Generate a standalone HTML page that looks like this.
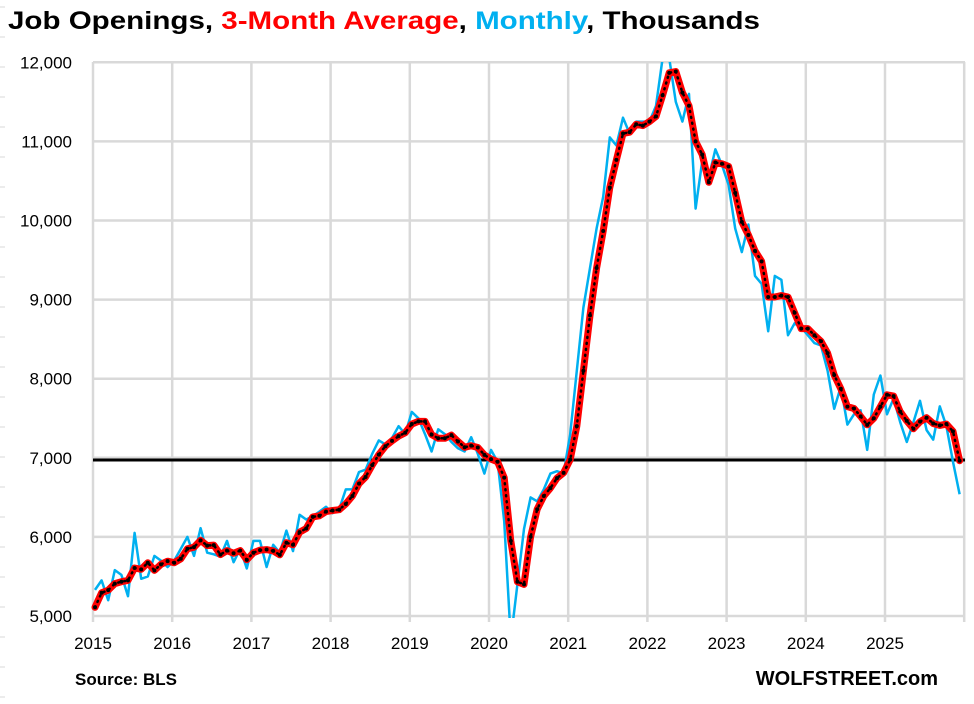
<!DOCTYPE html>
<html><head><meta charset="utf-8">
<style>
html,body{margin:0;padding:0;background:#fff;}
svg{display:block;font-family:"Liberation Sans",sans-serif;}
</style></head>
<body>
<svg id="s" width="974" height="704" viewBox="0 0 974 704" xmlns="http://www.w3.org/2000/svg">
<text x="8" y="29" font-size="25" font-weight="bold" textLength="752" lengthAdjust="spacingAndGlyphs"><tspan fill="#000">Job Openings, </tspan><tspan fill="#ff0000">3-Month Average</tspan><tspan fill="#000">, </tspan><tspan fill="#00b0f0">Monthly</tspan><tspan fill="#000">, Thousands</tspan></text>
<g id="grid" stroke="#d9d9d9" stroke-width="2.5" fill="none"></g>
<g id="lab" font-size="17" fill="#000"></g>
<line x1="93" y1="460" x2="965" y2="460" stroke="#000" stroke-width="3"/>
<g id="series"></g>
<text x="75" y="685" font-size="17" font-weight="bold">Source: BLS</text>
<text x="938" y="685" font-size="20" font-weight="bold" text-anchor="end">WOLFSTREET.com</text>
</svg>
<script>
var NS="http://www.w3.org/2000/svg";
function el(p,t,a,txt){var e=document.createElementNS(NS,t);for(var k in a)e.setAttribute(k,a[k]);if(txt!=null)e.textContent=txt;p.appendChild(e);return e;}
var g=document.getElementById('grid'),L=document.getElementById('lab');
function Y(v){return 616-(v-5000)*0.0791;}
for(var v=5000;v<=12000;v+=1000){var y=Y(v);el(g,'line',{x1:93,y1:y,x2:965,y2:y});
 el(L,'text',{x:72,y:y+6,'text-anchor':'end'},(v/1000)+','+'000');}
for(var i=0;i<=11;i++){var x=93+i*79.2;el(g,'line',{x1:x,y1:62,x2:x,y2:622});
 if(i<11)el(L,'text',{x:x,y:649,'text-anchor':'middle'},2015+i);}
for(var y=7;y<704;y+=30)el(g,'line',{x1:0,y1:y,x2:5,y2:y,'stroke-width':1});
var m=[5330,5450,5200,5580,5520,5250,6050,5470,5500,5760,5700,5620,
5700,5850,6000,5760,6110,5800,5780,5750,5950,5680,5850,5600,
5950,5950,5620,5900,5800,6080,5820,6280,6220,6260,6320,6380,
6300,6350,6600,6600,6820,6850,7050,7220,7170,7250,7400,7300,
7580,7500,7300,7080,7360,7300,7200,7120,7080,7260,7050,6800,
7100,6950,6200,4700,5400,6100,6500,6450,6600,6800,6830,6800,
7300,8100,8900,9400,9900,10300,11050,10950,11300,11100,11250,11250,
11250,11450,12050,12100,11500,11250,11600,10150,10750,10550,10900,10700,
10450,9900,9600,9950,9300,9200,8600,9300,9250,8550,8700,8650,
8550,8450,8420,8100,7620,7900,7420,7550,7600,7100,7800,8040,
7550,7750,7450,7200,7450,7720,7350,7230,7650,7400,6950,6540];
var pre=[4900,5100];var all=pre.concat(m);var r=[];
for(var i=0;i<m.length;i++){r.push((all[i]+all[i+1]+all[i+2])/3);}
function X(i){return 95+i*6.6;}
function pts(a){return a.map(function(v,i){return X(i).toFixed(1)+','+Math.max(Y(v),58).toFixed(1)}).join(' ');}
var s=document.getElementById('series');
var cp=el(s,'clipPath',{id:'c'});el(cp,'rect',{x:90,y:62,width:880,height:556});
el(s,'polyline',{points:pts(m),fill:'none',stroke:'#00b0f0','stroke-width':2.5,'stroke-linejoin':'round','clip-path':'url(#c)'});
el(s,'polyline',{points:pts(r),fill:'none',stroke:'#ff0000','stroke-width':7,'stroke-linejoin':'round','stroke-linecap':'round'});
el(s,'polyline',{points:pts(r),fill:'none',stroke:'#000','stroke-width':2.5,'stroke-dasharray':'1 5','stroke-linecap':'round'});
r.forEach(function(v,i){el(s,'circle',{cx:X(i),cy:Y(v),r:2,fill:'#000'});});
</script>
</body></html>
